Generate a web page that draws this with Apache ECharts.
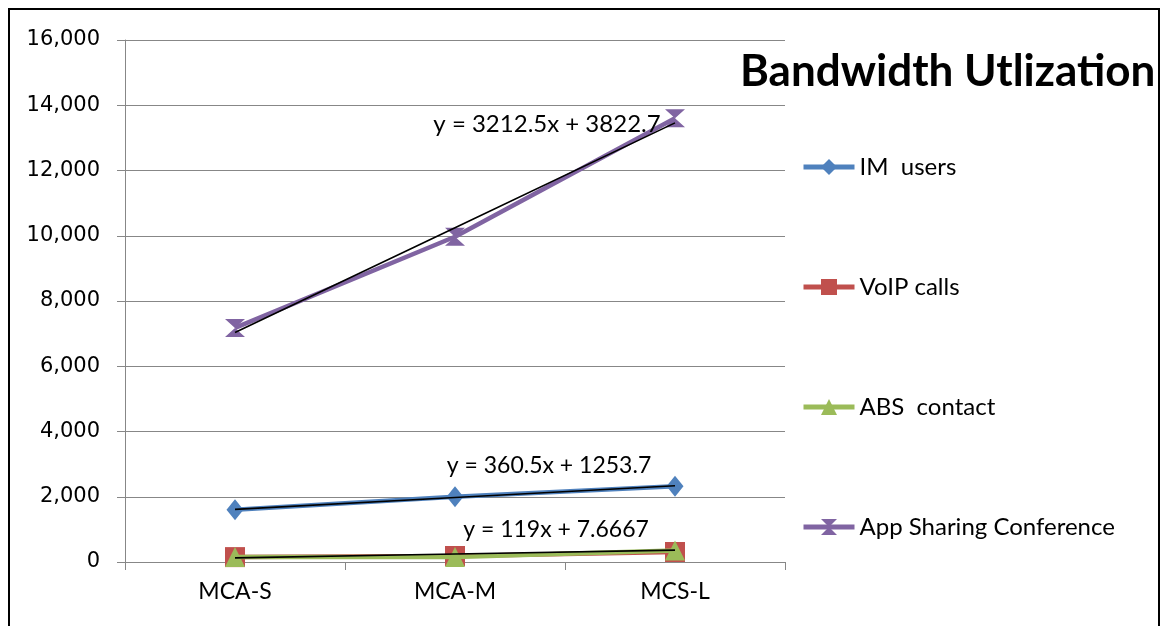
<!DOCTYPE html>
<html>
<head>
<meta charset="utf-8">
<script src="https://cdn.jsdelivr.net/npm/echarts@6/dist/echarts.min.js"></script>
<style>html,body{margin:0;padding:0;background:#fff}#c{width:1162px;height:626px}</style>
</head>
<body>
<div id="c"></div>
<script>
var categories = ['MCA-S', 'MCA-M', 'MCS-L'];
var imUsers = [1600, 2003, 2321];
var voipCalls = [150, 184, 306];
var absContact = [150, 150, 352];
var appSharing = [7175, 9968, 13600];
var yTicks = [0, 2000, 4000, 6000, 8000, 10000, 12000, 14000, 16000];
// trendline equations shown on the chart: y = slope * x + intercept (x = 1..3)
var trendSlopes = [3212.5, 360.5, 119];
var trendIntercepts = [3822.7, 1253.7, 7.6667];
var trendLabels = ['y = 3212.5x + 3822.7', 'y = 360.5x + 1253.7', 'y = 119x + 7.6667'];

function trendData(i) {
  return categories.map(function (c, k) { return +(trendSlopes[i] * (k + 1) + trendIntercepts[i]).toFixed(2); });
}

var font = 'Lato, "Noto Sans", sans-serif';
var hourglass = 'path://M0,0 L10,0 L5,5 L10,10 L0,10 L5,5 Z';

function trendSeries(i, labelIdx, offset, size) {
  var d = trendData(i).map(function (v, k) {
    if (k === labelIdx) {
      return { value: v, label: { show: true, formatter: trendLabels[i], offset: offset,
        position: 'inside', color: '#000', fontSize: size, fontFamily: font } };
    }
    return v;
  });
  return {
    name: 'trend' + i, type: 'line', data: d, symbol: 'circle', showSymbol: true,
    symbolSize: 1, silent: true, z: 5,
    itemStyle: { color: 'rgba(0,0,0,0)' },
    lineStyle: { color: '#000', width: 1.6 }, emphasis: { disabled: true }
  };
}

var chart = echarts.init(document.getElementById('c'), null, { renderer: 'canvas' });
chart.setOption({
  animation: false,
  title: {
    text: 'Bandwidth Utlization', left: 735, top: 45,
    textStyle: { fontFamily: font, fontWeight: 'bold', fontSize: 44, color: '#000' }
  },
  graphic: [{
    type: 'rect', shape: { x: 9, y: 9, width: 1150, height: 640 },
    style: { fill: 'none', stroke: '#000', lineWidth: 2 }, silent: true
  }],
  legend: {
    orient: 'vertical', left: 796, top: 149, itemGap: 94,
    itemWidth: 51, itemHeight: 20,
    lineStyle: { width: 5 },
    data: ['IM  users', 'VoIP calls', 'ABS  contact', 'App Sharing Conference'],
    textStyle: { fontFamily: font, fontSize: 24, color: '#000', lineHeight: 26 }
  },
  grid: { left: 125, right: 377, top: 40, bottom: 64, containLabel: false },
  xAxis: {
    type: 'category', data: categories, boundaryGap: true,
    axisLine: { lineStyle: { color: '#878787', width: 1 } },
    axisTick: { show: true, length: 8, lineStyle: { color: '#878787' } },
    axisLabel: { fontFamily: font, fontSize: 23, color: '#000', margin: 18 },
    splitLine: { show: false }
  },
  yAxis: {
    type: 'value', min: yTicks[0], max: yTicks[yTicks.length - 1], interval: yTicks[1] - yTicks[0],
    axisLine: { show: true, lineStyle: { color: '#878787', width: 1 } },
    axisTick: { show: true, length: 8, lineStyle: { color: '#878787' } },
    axisLabel: { fontFamily: '"DejaVu Sans", sans-serif', fontSize: 21, color: '#000', margin: 25 },
    splitLine: { show: true, lineStyle: { color: '#878787', width: 1 } }
  },
  series: [
    { name: 'IM  users', type: 'line', data: imUsers, symbol: 'diamond', symbolSize: [17, 21],
      color: '#4F81BD', lineStyle: { width: 4.5, color: '#4F81BD' }, itemStyle: { color: '#4F81BD' }, z: 3 },
    { name: 'VoIP calls', type: 'line', data: voipCalls, symbol: 'rect', symbolSize: 20,
      color: '#C0504D', lineStyle: { width: 4.5, color: '#C0504D' }, itemStyle: { color: '#C0504D' }, z: 2 },
    { name: 'ABS  contact', type: 'line', data: absContact, symbol: 'triangle', symbolSize: [20, 20],
      color: '#9BBB59', lineStyle: { width: 4.5, color: '#9BBB59' }, itemStyle: { color: '#9BBB59' }, z: 3 },
    { name: 'App Sharing Conference', type: 'line', data: appSharing, symbol: hourglass, symbolSize: [20, 18],
      color: '#8064A2', lineStyle: { width: 4.5, color: '#8064A2' }, itemStyle: { color: '#8064A2' }, z: 3 },
    trendSeries(0, 1, [92, -103], 24),
    trendSeries(1, 1, [94, -32], 23),
    trendSeries(2, 1, [101, -24], 23)
  ]
});
</script>
</body>
</html>
